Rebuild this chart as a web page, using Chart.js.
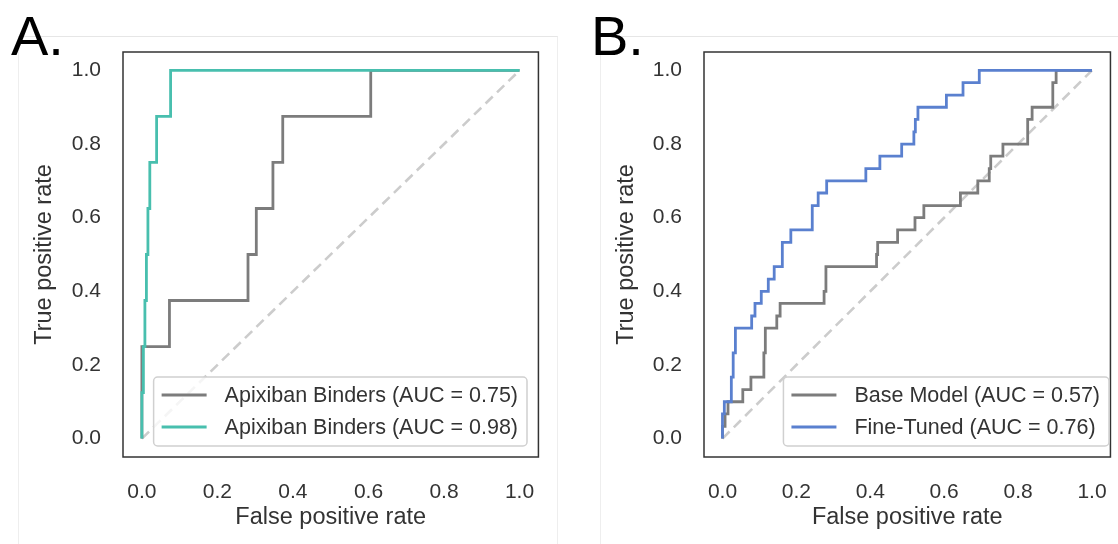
<!DOCTYPE html>
<html>
<head>
<meta charset="utf-8">
<script src="https://cdn.jsdelivr.net/npm/chart.js@4.4.1/dist/chart.umd.min.js"></script>
<style>
    html, body {
        margin: 0;
        padding: 0;
        background: #fff;
        width: 1118px;
        height: 544px;
        overflow: hidden;
        position: relative;
        font-family: "Liberation Sans", Arial, sans-serif;
    }
    .frame {
        position: absolute;
        border-top: 1px solid #e6e6e6;
        border-left: 1px solid #eeeeee;
        border-right: 1px solid #eeeeee;
    }
    .letter {
        position: absolute;
        font-size: 56px;
        line-height: 56px;
        color: #000;
    }
    canvas {
        position: absolute;
    }
</style>
</head>
<body>
<div class="frame" style="left:18px; top:36px; width:538px; height:520px;"></div>
<div class="frame" style="left:600px; top:36px; width:540px; height:520px;"></div>
<div class="letter" style="left:11px; top:8px;">A.</div>
<div class="letter" style="left:591px; top:8px;">B.</div>
<canvas id="chartA" width="540" height="510" style="left:18px; top:34px;"></canvas>
<canvas id="chartB" width="530" height="510" style="left:600px; top:34px;"></canvas>

<script>
// tick labels shared by both panels
const tickVals = [0, 0.2, 0.4, 0.6, 0.8, 1.0];
const diagX = [0, 1];
const diagY = [0, 1];

// A. first model (grey)
const fprA1 = [0, 0, 0.073, 0.073, 0.281, 0.281, 0.303, 0.303, 0.347, 0.347, 0.373, 0.373, 0.606, 0.606, 1];
const tprA1 = [0, 0.25, 0.25, 0.375, 0.375, 0.5, 0.5, 0.625, 0.625, 0.75, 0.75, 0.875, 0.875, 1, 1];

// A. second model (teal)
const fprA2 = [0, 0, 0.004, 0.004, 0.008, 0.008, 0.012, 0.012, 0.016, 0.016, 0.021, 0.021, 0.039, 0.039, 0.076, 0.076, 1];
const tprA2 = [0, 0.125, 0.125, 0.25, 0.25, 0.375, 0.375, 0.5, 0.5, 0.625, 0.625, 0.75, 0.75, 0.875, 0.875, 1, 1];

// B. base model (grey)
const fprB1 = [0, 0, 0.007, 0.007, 0.015, 0.015, 0.055, 0.055, 0.077, 0.077, 0.112, 0.112, 0.116, 0.116,
    0.147, 0.147, 0.156, 0.156, 0.275, 0.275, 0.28, 0.28, 0.417, 0.417, 0.42, 0.42, 0.474, 0.474,
    0.521, 0.521, 0.545, 0.545, 0.644, 0.644, 0.691, 0.691, 0.722, 0.722, 0.726, 0.726, 0.759, 0.759,
    0.826, 0.826, 0.838, 0.838, 0.894, 0.894, 0.903, 0.903, 1];
const tprB1 = [0, 0.033, 0.033, 0.067, 0.067, 0.1, 0.1, 0.133, 0.133, 0.167, 0.167, 0.233, 0.233, 0.3,
    0.3, 0.333, 0.333, 0.367, 0.367, 0.4, 0.4, 0.467, 0.467, 0.5, 0.5, 0.533, 0.533, 0.567,
    0.567, 0.6, 0.6, 0.633, 0.633, 0.667, 0.667, 0.7, 0.7, 0.733, 0.733, 0.767, 0.767, 0.8,
    0.8, 0.867, 0.867, 0.9, 0.9, 0.967, 0.967, 1, 1];

// B. fine-tuned (blue)
const fprB2 = [0, 0, 0.005, 0.005, 0.024, 0.024, 0.029, 0.029, 0.035, 0.035, 0.079, 0.079, 0.088, 0.088,
    0.105, 0.105, 0.124, 0.124, 0.14, 0.14, 0.162, 0.162, 0.185, 0.185, 0.243, 0.243, 0.259, 0.259,
    0.282, 0.282, 0.388, 0.388, 0.426, 0.426, 0.485, 0.485, 0.518, 0.518, 0.522, 0.522, 0.529, 0.529,
    0.606, 0.606, 0.651, 0.651, 0.695, 0.695, 1];
const tprB2 = [0, 0.067, 0.067, 0.1, 0.1, 0.167, 0.167, 0.233, 0.233, 0.3, 0.3, 0.333, 0.333, 0.367,
    0.367, 0.4, 0.4, 0.433, 0.433, 0.467, 0.467, 0.533, 0.533, 0.567, 0.567, 0.633, 0.633, 0.667,
    0.667, 0.7, 0.7, 0.733, 0.733, 0.767, 0.767, 0.8, 0.8, 0.833, 0.833, 0.867, 0.867, 0.9,
    0.9, 0.933, 0.933, 0.967, 0.967, 1, 1];

const labelsA = ["Apixiban Binders (AUC = 0.75)", "Apixiban Binders (AUC = 0.98)"];
const labelsB = ["Base Model (AUC = 0.57)", "Fine-Tuned (AUC = 0.76)"];

const textColor = "#333";
const grey = "#7c7c7c";
const teal = "#48bfae";
const blue = "#5a80cf";

Chart.defaults.font.family = '"Liberation Sans", Arial, sans-serif';

function toPoints(xs, ys) {
    return xs.map((x, i) => ({ x: x, y: ys[i] }));
}

// box around plot + legend in the lower right corner
const boxPlugin = {
    id: "boxPlugin",
    afterDatasetsDraw(chart) {
        const ctx = chart.ctx;
        const a = chart.chartArea;
        ctx.save();
        ctx.strokeStyle = "#333";
        ctx.lineWidth = 1.5;
        ctx.strokeRect(a.left, a.top, a.right - a.left, a.bottom - a.top);

        const items = chart.data.datasets.filter((d) => d.label);
        ctx.font = "21.5px " + Chart.defaults.font.family;
        let tw = 0;
        items.forEach((d) => {
            tw = Math.max(tw, ctx.measureText(d.label).width);
        });
        const w = 8 + 45 + 18 + tw + 9;
        const h = 69;
        const x = chart.options.legendRight - w;
        const y = a.bottom - 11 - h;

        ctx.beginPath();
        ctx.roundRect(x, y, w, h, 4);
        ctx.fillStyle = "rgba(255,255,255,0.8)";
        ctx.fill();
        ctx.strokeStyle = "#d0d0d0";
        ctx.lineWidth = 1.5;
        ctx.stroke();

        items.forEach((d, i) => {
            const cy = y + 18 + i * 32;
            ctx.beginPath();
            ctx.moveTo(x + 8, cy);
            ctx.lineTo(x + 53, cy);
            ctx.strokeStyle = d.borderColor;
            ctx.lineWidth = 2.8;
            ctx.stroke();
            ctx.fillStyle = textColor;
            ctx.textBaseline = "middle";
            ctx.textAlign = "left";
            ctx.fillText(d.label, x + 71, cy + 1);
        });
        ctx.restore();
    },
};

function makePanel(id, series, yWidth, padRight, legendGap) {
    const datasets = series.map((s, i) => ({
        label: s.label,
        data: toPoints(s.x, s.y),
        borderColor: s.color,
        borderWidth: 2.8,
        pointRadius: 0,
        tension: 0,
        fill: false,
        order: series.length - i,
    }));
    datasets.push({
        label: "",
        data: toPoints(diagX, diagY),
        borderColor: "#cccccc",
        borderWidth: 2.6,
        borderDash: [10, 6],
        pointRadius: 0,
        fill: false,
        order: 10,
    });

    const axis = (title, isX) => ({
        type: "linear",
        min: -0.05,
        max: 1.05,
        afterBuildTicks: (scale) => {
            scale.ticks = tickVals.map((v) => ({ value: v }));
        },
        afterFit: (scale) => {
            if (isX) {
                scale.height = 87;
            } else {
                scale.width = yWidth;
                scale.paddingTop = 0;
                scale.paddingBottom = 0;
            }
        },
        ticks: {
            autoSkip: false,
            maxRotation: 0,
            color: textColor,
            font: { size: 21 },
            padding: isX ? 23 : 22,
            callback: (v) => Number(v).toFixed(1),
        },
        grid: { display: false, drawTicks: false },
        border: { display: false },
        title: {
            display: true,
            text: title,
            color: textColor,
            font: { size: 23.5 },
            padding: 12,
        },
    });

    return new Chart(document.getElementById(id).getContext("2d"), {
        type: "line",
        data: { datasets: datasets },
        options: {
            responsive: false,
            animation: false,
            legendRight: legendGap,
            layout: { padding: { top: 18, right: padRight, left: 0, bottom: 0 } },
            plugins: {
                legend: { display: false },
                tooltip: { enabled: false },
            },
            scales: {
                x: axis("False positive rate", true),
                y: axis("True positive rate", false),
            },
        },
        plugins: [boxPlugin],
    });
}

makePanel("chartA", [
    { label: labelsA[0], x: fprA1, y: tprA1, color: grey },
    { label: labelsA[1], x: fprA2, y: tprA2, color: teal },
], 105, 19, 509);

makePanel("chartB", [
    { label: labelsB[0], x: fprB1, y: tprB1, color: grey },
    { label: labelsB[1], x: fprB2, y: tprB2, color: blue },
], 104, 9.5, 509);
</script>
</body>
</html>
